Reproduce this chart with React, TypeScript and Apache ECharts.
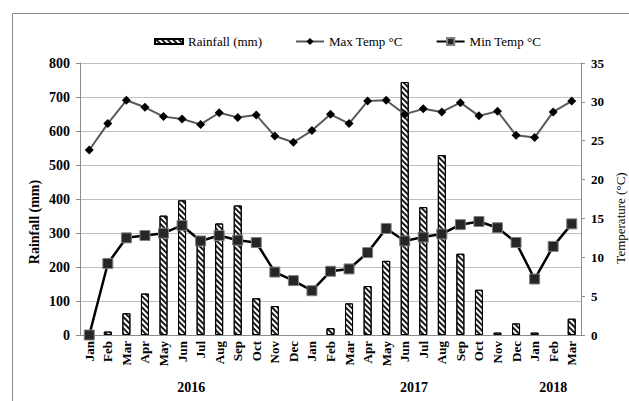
import React, { useEffect, useRef } from "react";
import * as echarts from "echarts";

const categories = [
  "Jan", "Feb", "Mar", "Apr", "May", "Jun", "Jul", "Aug", "Sep", "Oct", "Nov", "Dec",
  "Jan", "Feb", "Mar", "Apr", "May", "Jun", "Jul", "Aug", "Sep", "Oct", "Nov", "Dec",
  "Jan", "Feb", "Mar",
];
const years = ["2016", "2017", "2018"];
const rainfall = [
  0, 10, 64, 122, 351, 396, 275, 328, 381, 108, 85, 0,
  0, 20, 93, 144, 218, 744, 376, 529, 239, 133, 7, 34,
  7, 0, 48,
];
const maxTemp = [
  23.8, 27.2, 30.2, 29.3, 28.1, 27.8, 27.1, 28.6, 28.0, 28.3, 25.6, 24.8,
  26.3, 28.4, 27.2, 30.1, 30.2, 28.4, 29.1, 28.7, 29.9, 28.2, 28.8, 25.7,
  25.4, 28.7, 30.1,
];
const minTemp = [
  0.0, 9.2, 12.5, 12.8, 13.1, 14.1, 12.1, 12.8, 12.2, 11.9, 8.1, 7.0,
  5.7, 8.2, 8.5, 10.6, 13.7, 12.1, 12.6, 13.0, 14.2, 14.6, 13.8, 11.9,
  7.2, 11.4, 14.3,
];
const rainTicks = { min: 0, max: 800, interval: 100 };
const tempTicks = { min: 0, max: 35, interval: 5 };

const FONT = "Liberation Serif";

export default function App() {
  const ref = useRef<HTMLDivElement>(null);
  useEffect(() => {
    if (!ref.current) return;
    const chart = echarts.init(ref.current, undefined, { renderer: "svg" });
    const gridLeft = 80;
    const gridRight = 48;
    const plotW = 629 - gridLeft - gridRight;
    const catW = plotW / categories.length;
    const yearCenters = [6, 18, 25.5].map((c) => gridLeft + c * catW);
    chart.setOption({
      animation: false,
      backgroundColor: "#fff",
      textStyle: { fontFamily: FONT },
      grid: { left: gridLeft, right: gridRight, top: 63, bottom: 66 },
      legend: {
        left: 149,
        top: 30,
        itemGap: 33,
        itemWidth: 28,
        itemHeight: 9,
        textStyle: { fontFamily: FONT, fontSize: 13, color: "#000" },
        data: [
          { name: "Rainfall (mm)", icon: "path://M0,0H28V5H0Z" },
          { name: "Max Temp °C" },
          { name: "Min Temp °C" },
        ],
      },
      xAxis: {
        type: "category",
        data: categories,
        boundaryGap: true,
        axisLine: { show: true, lineStyle: { color: "#8c8c8c" } },
        axisTick: { show: false },
        axisLabel: {
          rotate: 90,
          interval: 0,
          margin: 6,
          fontFamily: FONT,
          fontSize: 13,
          fontWeight: "bold",
          color: "#000",
        },
      },
      yAxis: [
        {
          type: "value",
          ...rainTicks,
          axisLine: { show: true, lineStyle: { color: "#8c8c8c" } },
          axisTick: { show: true, inside: false, length: 4, lineStyle: { color: "#8c8c8c" } },
          splitLine: { show: true, lineStyle: { color: "#bfbfbf" } },
          axisLabel: {
            margin: 10,
            fontFamily: FONT,
            fontSize: 14,
            fontWeight: "bold",
            color: "#000",
          },
        },
        {
          type: "value",
          ...tempTicks,
          position: "right",
          axisLine: { show: true, lineStyle: { color: "#8c8c8c" } },
          axisTick: { show: true, inside: false, length: 4, lineStyle: { color: "#8c8c8c" } },
          splitLine: { show: false },
          axisLabel: {
            margin: 10,
            fontFamily: FONT,
            fontSize: 13,
            fontWeight: "bold",
            color: "#000",
          },
        },
      ],
      series: [
        {
          name: "Rainfall (mm)",
          type: "bar",
          yAxisIndex: 0,
          barWidth: 8,
          data: rainfall.map((v) => (v === 0 ? "-" : v)),
          itemStyle: {
            color: "#fff",
            borderColor: "#000",
            borderWidth: 1,
            decal: {
              symbol: "rect",
              symbolSize: 1,
              color: "#1a1a1a",
              dashArrayX: [1, 0],
              dashArrayY: [1.5, 2],
              rotation: Math.PI / 4,
            },
          },
        },
        {
          name: "Max Temp °C",
          type: "line",
          yAxisIndex: 1,
          data: maxTemp,
          symbol: "diamond",
          symbolSize: 9,
          lineStyle: { color: "#595959", width: 2 },
          itemStyle: { color: "#000" },
          z: 3,
        },
        {
          name: "Min Temp °C",
          type: "line",
          yAxisIndex: 1,
          data: minTemp,
          symbol: "rect",
          symbolSize: 10,
          lineStyle: { color: "#000", width: 2.5 },
          itemStyle: { color: "#262626", borderColor: "#808080", borderWidth: 1 },
          z: 4,
        },
      ],
      graphic: [
        { type: "line", shape: { x1: 12.5, y1: 13.5, x2: 629, y2: 13.5 }, style: { stroke: "#8c8c8c", lineWidth: 1 } },
        { type: "line", shape: { x1: 12.5, y1: 13.5, x2: 12.5, y2: 401 }, style: { stroke: "#8c8c8c", lineWidth: 1 } },
        {
          type: "text",
          x: 34,
          y: 222,
          rotation: Math.PI / 2,
          style: {
            text: "Rainfall (mm)",
            font: `bold 14px ${FONT}`,
            fill: "#000",
            align: "center",
            verticalAlign: "middle",
          },
        },
        {
          type: "text",
          x: 620,
          y: 218,
          rotation: Math.PI / 2,
          style: {
            text: "Temperature (°C)",
            font: `13px ${FONT}`,
            fill: "#000",
            align: "center",
            verticalAlign: "middle",
          },
        },
        ...years.map((y, i) => ({
          type: "text",
          x: yearCenters[i],
          y: 387,
          style: {
            text: y,
            font: `bold 14px ${FONT}`,
            fill: "#000",
            align: "center",
            verticalAlign: "middle",
          },
        })),
      ],
    });
    return () => chart.dispose();
  }, []);
  return (
    <div
      ref={ref}
      style={{ position: "absolute", left: 0, top: 0, width: 629, height: 401 }}
    />
  );
}
